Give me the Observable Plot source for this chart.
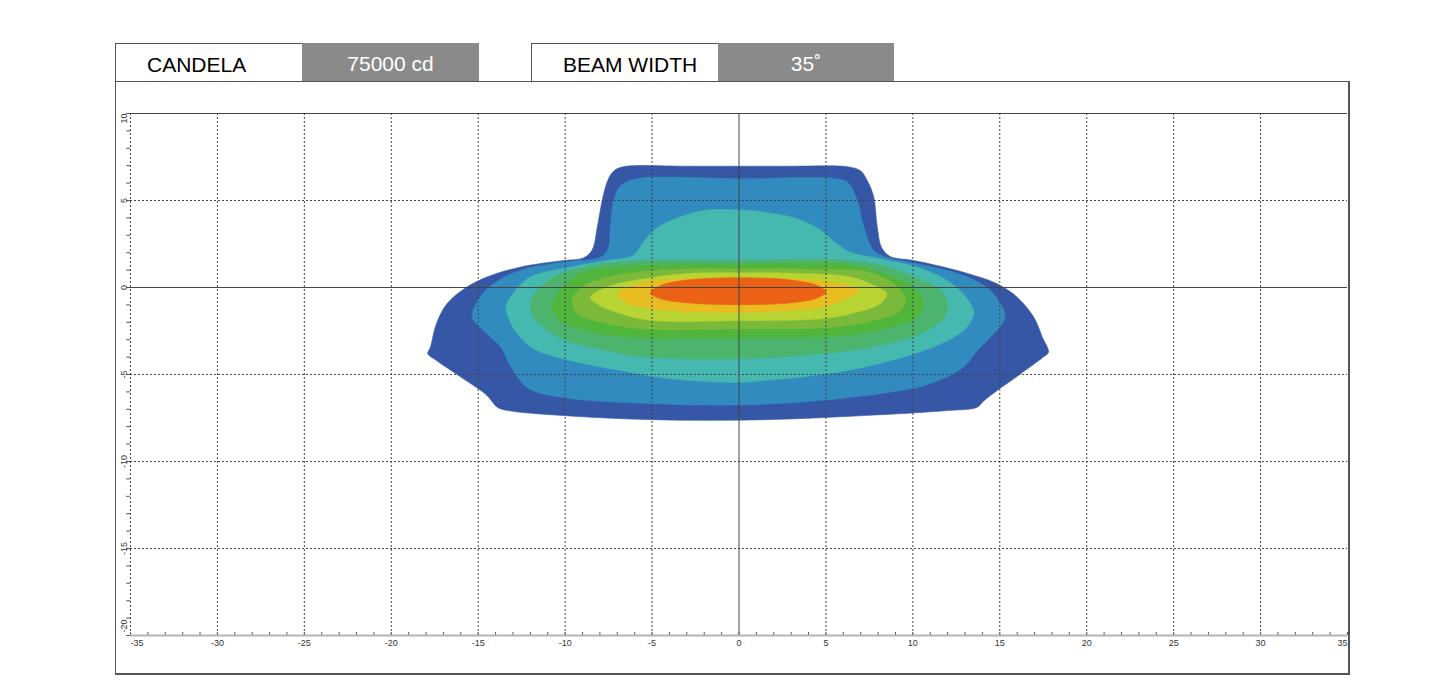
<!DOCTYPE html>
<html><head><meta charset="utf-8">
<script src="https://cdn.jsdelivr.net/npm/d3@7"></script>
<script src="https://cdn.jsdelivr.net/npm/@observablehq/plot@0.6"></script>
<style>
body{margin:0;background:#fff;font-family:"Liberation Sans",Arial,sans-serif;}
.box{position:absolute;top:43px;height:38px;box-sizing:border-box;font-size:21px;line-height:41px;white-space:nowrap;}
.lab{background:#fff;border-top:1px solid #555;border-left:1px solid #555;padding-left:31px;color:#000;}
.val{background:#8a8a8a;color:#fff;text-align:center;}
#frame{position:absolute;left:115px;top:81px;width:1235px;height:594px;box-sizing:border-box;border-top:1px solid #555;border-left:1px solid #555;border-right:2px solid #555;border-bottom:2px solid #555;}
#chart{position:absolute;left:115px;top:81px;}
</style></head><body>
<div class="box lab" style="left:115px;width:187px;">CANDELA</div>
<div class="box val" style="left:302px;width:177px;">75000 cd</div>
<div class="box lab" style="left:531px;width:187px;">BEAM WIDTH</div>
<div class="box val" style="left:718px;width:176px;">35˚</div>
<div id="frame"></div>
<div id="chart"></div>
<script>
// Iso-candela contour outlines, [horizontal deg, vertical deg], outermost first
const level1 = [[-6.6,6.95],[-3,6.97],[0,6.97],[3,6.97],[6.3,6.93],[7.0,6.7],[7.4,6.1],[7.75,5.2],[7.95,3.5],[8.2,2.3],[8.7,1.78],[10.05,1.55],[12.9,0.88],[14.85,0.21],[16.0,-0.56],[16.95,-1.7],[17.45,-2.86],[17.8,-3.72],[17.5,-4.0],[16.2,-4.96],[14.85,-5.92],[14.1,-6.5],[13.7,-6.88],[12.0,-7.07],[7.2,-7.36],[1.4,-7.6],[-4.9,-7.6],[-10.1,-7.36],[-13.3,-7.07],[-13.9,-6.88],[-14.5,-6.2],[-16.0,-5.15],[-17.4,-4.2],[-17.9,-3.8],[-17.75,-3.43],[-17.4,-2.07],[-16.8,-0.94],[-15.8,-0.07],[-14.5,0.6],[-12.6,1.17],[-10.1,1.55],[-8.95,1.7],[-8.45,2.15],[-8.15,3.47],[-7.87,5.0],[-7.55,6.15],[-7.2,6.7]];
const level2 = [[-5.85,6.25],[0,6.25],[5.6,6.25],[6.3,6.0],[6.8,5.0],[7.18,3.47],[7.75,2.13],[8.5,1.74],[10.25,1.36],[12.9,0.69],[14.46,-0.17],[15.3,-1.7],[14.46,-2.86],[13.7,-3.62],[12.9,-4.58],[11.0,-5.53],[8.1,-6.1],[3.35,-6.6],[0,-6.75],[-4.9,-6.68],[-10.3,-6.3],[-12.2,-5.73],[-13.1,-4.58],[-13.7,-3.43],[-14.7,-2.47],[-15.34,-1.7],[-14.9,-0.56],[-14.1,0.23],[-12.6,0.98],[-10.1,1.46],[-7.96,1.74],[-7.5,2.3],[-7.4,3.47],[-7.2,5.0],[-6.8,5.86]];
const level3 = [[-2.0,4.43],[0,4.45],[1.43,4.33],[3.35,3.95],[4.7,3.28],[5.65,2.5],[6.4,2.03],[8.1,1.65],[10.25,1.17],[11.8,0.5],[12.9,-0.36],[13.5,-1.42],[13.1,-2.28],[12.0,-3.05],[10.05,-3.81],[7.18,-4.58],[4.3,-5.06],[1.43,-5.35],[0,-5.45],[-3.9,-5.25],[-6.8,-4.77],[-9.7,-4.2],[-11.8,-3.52],[-12.75,-2.66],[-13.1,-2.09],[-13.4,-1.13],[-13.0,-0.36],[-12.0,0.6],[-9.7,1.17],[-7.6,1.55],[-6.07,1.84],[-5.57,2.5],[-4.9,3.28],[-3.9,3.85]];
const level4 = [[-5.3,1.55],[0,1.55],[5.5,1.6],[8.3,1.26],[10.05,0.6],[11.6,-0.17],[12.0,-0.94],[11.8,-1.7],[10.8,-2.47],[9.3,-3.05],[6.4,-3.62],[3.5,-3.9],[0,-4.1],[-5.3,-4.0],[-7.6,-3.62],[-9.9,-3.05],[-11.0,-2.47],[-11.8,-1.7],[-12.0,-0.94],[-11.6,-0.17],[-10.65,0.6],[-8.54,1.26]];
const level5 = [[-7.2,1.17],[-4,1.3],[0,1.32],[4,1.35],[6.4,1.3],[8.9,0.6],[10.25,-0.17],[10.6,-0.84],[10.25,-1.7],[8.7,-2.28],[6.0,-2.76],[0,-2.89],[-6.2,-2.86],[-8.7,-2.47],[-10.3,-1.9],[-10.74,-1.13],[-10.3,-0.17],[-9.1,0.79]];
const level6 = [[-7.2,0.69],[-4,1.03],[0,1.07],[4,1.05],[7.37,0.9],[8.9,0.21],[9.57,-0.65],[9.3,-1.32],[7.75,-1.9],[5.45,-2.28],[0,-2.37],[-5.66,-2.37],[-7.96,-2.0],[-9.3,-1.51],[-9.6,-0.95],[-9.45,-0.4],[-8.7,0.21]];
const level7 = [[-6.05,0.4],[-3,0.8],[0,0.84],[3,0.82],[6.4,0.6],[7.95,0.02],[8.5,-0.36],[8.1,-0.94],[6.4,-1.51],[4.7,-1.8],[0,-1.9],[-4.9,-1.9],[-6.8,-1.51],[-8.15,-0.94],[-8.54,-0.56],[-7.6,0.02]];
const level8 = [[-5,0.38],[-2.5,0.52],[0,0.53],[2.5,0.5],[5.3,0.3],[6.9,-0.17],[5.8,-0.8],[4.5,-1.15],[2,-1.38],[0,-1.42],[-2.5,-1.4],[-5,-1.2],[-6.5,-0.85],[-7.0,-0.36],[-6.2,0.1]];
const level9 = [[-5.1,-0.3],[-4.5,0.12],[-3,0.43],[-1,0.55],[1,0.55],[3,0.43],[4.5,0.12],[5.0,-0.25],[4.5,-0.6],[3,-0.88],[1,-0.98],[-1,-0.98],[-3,-0.88],[-4.5,-0.65]];
const levelColors = ["#3557a6","#318bbf","#45b9af","#4db46d","#50b53b","#7ab93a","#b8d433","#e9bc21","#eb6216"];

const xTickLabels = [-30,-25,-20,-15,-10,-5,0,5,10,15,20,25,30];
const yTickLabels = [5,0,-5,-10,-15];
const xGrid = [-35,-30,-25,-20,-15,-10,-5,5,10,15,20,25,30];
const yGrid = [5,-5,-10,-15];

const levels = [level1,level2,level3,level4,level5,level6,level7,level8,level9];
const minorX = d3.range(-35, 36, 1);
const minorY = d3.range(-20, 11, 1);

const marks = [];
levels.forEach((pts, i) => {
  marks.push(Plot.line(pts, {x: d => d[0], y: d => d[1], fill: levelColors[i], stroke: levelColors[i], strokeWidth: 0.6, curve: "catmull-rom-closed"}));
});
marks.push(
  Plot.ruleX(xGrid, {y1: -20, y2: 10, stroke: "#444", strokeWidth: 1, strokeDasharray: "2,2"}),
  Plot.ruleY(yGrid, {x1: -35, x2: 35, stroke: "#444", strokeWidth: 1, strokeDasharray: "2,2"}),
  Plot.ruleY([10, 0], {x1: -35, x2: 35, stroke: "#444", strokeWidth: 1}),
  Plot.ruleX([0], {y1: -20, y2: 10, stroke: "#444", strokeWidth: 1}),
  Plot.ruleX(minorX, {y1: -20, y2: -19.83, stroke: "#555", strokeWidth: 1}),
  Plot.ruleY(minorY, {x1: -35.22, x2: -35, stroke: "#555", strokeWidth: 1}),
  Plot.ruleY([-20], {x1: -35, x2: 35, stroke: "#b4b4b4", strokeWidth: 2}),
  Plot.text(xTickLabels, {x: d => d, y: -20, dy: 8, text: d => String(d), fill: "#333"}),
  Plot.text([-35], {x: d => d, y: -20, dy: 8, text: d => String(d), textAnchor: "start", fill: "#333"}),
  Plot.text([35], {x: d => d, y: -20, dy: 8, text: d => String(d), textAnchor: "end", fill: "#333"}),
  Plot.text(yTickLabels, {x: -35, y: d => d, dx: -6, rotate: -90, text: d => String(d), fill: "#333"}),
  Plot.text([10], {x: -35, y: d => d, dx: -6, rotate: -90, text: d => String(d), textAnchor: "end", fill: "#333"}),
  Plot.text([-20], {x: -35, y: d => d, dx: -6, dy: -3, rotate: -90, text: d => String(d), textAnchor: "start", fill: "#333"})
);

const chart = Plot.plot({
  width: 1235, height: 594,
  marginLeft: 15, marginRight: 3, marginTop: 32, marginBottom: 40,
  x: {domain: [-35, 35], axis: null},
  y: {domain: [-20, 10], axis: null},
  style: {background: "transparent", fontFamily: "'Liberation Sans', Arial, sans-serif", fontSize: "9px", color: "#333", overflow: "visible"},
  marks
});
document.getElementById("chart").appendChild(chart);
</script>
</body></html>
